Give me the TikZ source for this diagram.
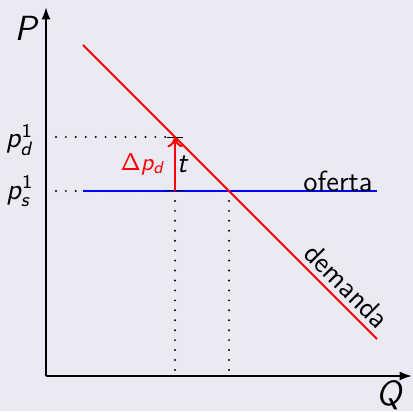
\documentclass[tikz,border=0pt]{standalone}
\usepackage{amsmath}
\usepackage{tikz}
\usepackage{xcolor}
\usetikzlibrary{arrows.meta,positioning,calc}
\DeclareMathAlphabet{\mathsfit}{OT1}{cmss}{m}{sl}
\definecolor{slidebg}{RGB}{234,234,244}
\definecolor{taxred}{RGB}{255,0,0}
\definecolor{supplyblue}{RGB}{0,0,255}
\tikzset{
  axis/.style={-{Latex[length=1.8mm,width=1.3mm]}, line width=0.8pt, draw=black},
  curve/.style={line width=0.8pt},
  guide/.style={line width=0.9pt, line cap=round, dash pattern=on 0pt off 4.1pt},
  lbl/.style={inner sep=1pt, font=\sffamily}
}

\begin{document}
\begin{tikzpicture}[x=0.0145cm, y=-0.0145cm]
  \fill[slidebg] (0,0) rectangle (413,411);
  \useasboundingbox (0,0) rectangle (413,411);

  % points of the graph (pixel grid)
  \coordinate (O) at (46,376);
  \coordinate (ytop) at (46,7);
  \coordinate (xend) at (412,376);
  \coordinate (dA) at (83,45);
  \coordinate (dB) at (377,339);
  \coordinate (sA) at (83,191);
  \coordinate (sB) at (377,191);
  \coordinate (pd) at (175,137);
  \coordinate (ps) at (175,191);
  \coordinate (eq) at (229,191);
  \coordinate (pdax) at (46,137);
  \coordinate (psax) at (46,191);
  \coordinate (qd) at (175,376);
  \coordinate (qe) at (229,376);

  % guides
  \draw[guide] (pdax) -- (pd);
  \draw[guide] (psax) -- (eq);
  \draw[guide] (ps) -- (qd);
  \draw[guide] (eq) -- (qe);

  % axes
  \draw[axis] (O) -- (ytop);
  \draw[axis] (O) -- (xend);

  % curves
  \draw[curve, supplyblue] (sA) -- (sB);
  \draw[curve, taxred] (dA) -- (dB);
  \draw[line width=0.6pt, {Bar[width=2.2mm]}-{Bar[width=2.2mm]}] (ps) -- (pd);
  \draw[curve, taxred, -{To[length=1.5mm,width=2.2mm]}] (ps) -- (pd);

  % labels
  \node[lbl, font=\Large] (Plab) at (27,28) {$\mathsfit{P}$};
  \node[lbl, font=\Large] (Qlab) at (390,396) {$\mathsfit{Q}$};
  \node[lbl, font=\large] (pdlab) at (20,140) {$\mathsfit{p}_{\mathsfit{d}}^{\mathsf{1}}$};
  \node[lbl, font=\large] (pslab) at (20,191) {$\mathsfit{p}_{\mathsfit{s}}^{\mathsf{1}}$};
  \node[lbl, text=taxred] (dplab) at (143,164) {$\mathsf{\Delta}\mathsfit{p}_{\mathsfit{d}}$};
  \node[lbl, font=\large] (tlab) at (183,164) {$\mathsfit{t}$};
  \node[lbl, font=\sffamily\large] (oflab) at (338,181) {oferta};
  \node[lbl, font=\sffamily\large, rotate=-45] (demlab) at (347,286) {demanda};
\end{tikzpicture}
\end{document}
